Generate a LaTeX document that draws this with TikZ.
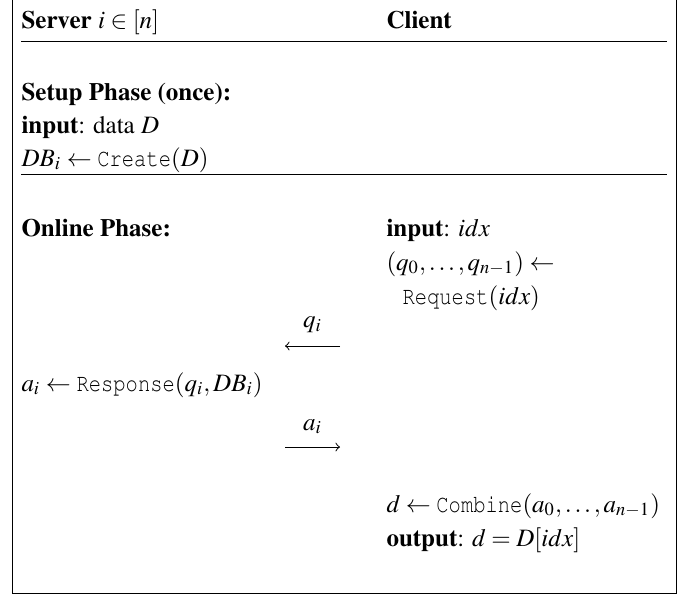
\documentclass[tikz,border=0pt]{standalone}
\usepackage[T1]{fontenc}
\usepackage{amsmath}
\usepackage{amssymb}
\usepackage{mathptmx}
\usepackage{courier}
\usepackage{graphicx}
\usepackage{tikz}

\newcommand{\algo}[1]{\text{\scalebox{0.82}[1]{\ttfamily #1}}}

\begin{document}
\begin{tikzpicture}[x=0.4pt, y=-0.4pt, every node/.style={anchor=base west, inner sep=0pt, font=\fontsize{10}{12}\selectfont}]
  \useasboundingbox (0,0) rectangle (694,596);
  \draw (12,0) -- (12,593) -- (676,593) -- (676,0);
  \coordinate (h1) at (21,41);
  \coordinate (h2) at (667,41);
  \coordinate (s1) at (21,174);
  \coordinate (s2) at (667,174);
  \draw (h1) -- (h2);
  \draw (s1) -- (s2);

  \node (server) at (21,28) {\textbf{Server} $i \in [n]$};
  \node (client) at (386,28) {\textbf{Client}};

  \node (setup) at (21,100) {\textbf{Setup Phase (once):}};
  \node (sin) at (21,133) {\textbf{input}: data $D$};
  \node (create) at (21,166) {$DB_i \leftarrow \algo{Create}(D)$};

  \node (online) at (21,236) {\textbf{Online Phase:}};
  \node (cin) at (386,236) {\textbf{input}: $idx$};
  \node (req1) at (386,270) {$(q_0,\ldots,q_{n-1}) \leftarrow$};
  \node (req2) at (402,304) {$\algo{Request}(idx)$};

  \coordinate (q1) at (340,346);
  \coordinate (q2) at (285,346);
  \draw [->] (q1) -- node [anchor=base, above=5pt] {$q_i$} (q2);

  \node (resp) at (21,391) {$a_i \leftarrow \algo{Response}(q_i, DB_i)$};

  \coordinate (a1) at (285,447);
  \coordinate (a2) at (340,447);
  \draw [->] (a1) -- node [anchor=base, above=5pt] {$a_i$} (a2);

  \node (comb) at (386,512) {$d \leftarrow \algo{Combine}(a_0,\ldots,a_{n-1})$};
  \node (out) at (386,546) {\textbf{output}: $d = D[idx]$};
\end{tikzpicture}
\end{document}
